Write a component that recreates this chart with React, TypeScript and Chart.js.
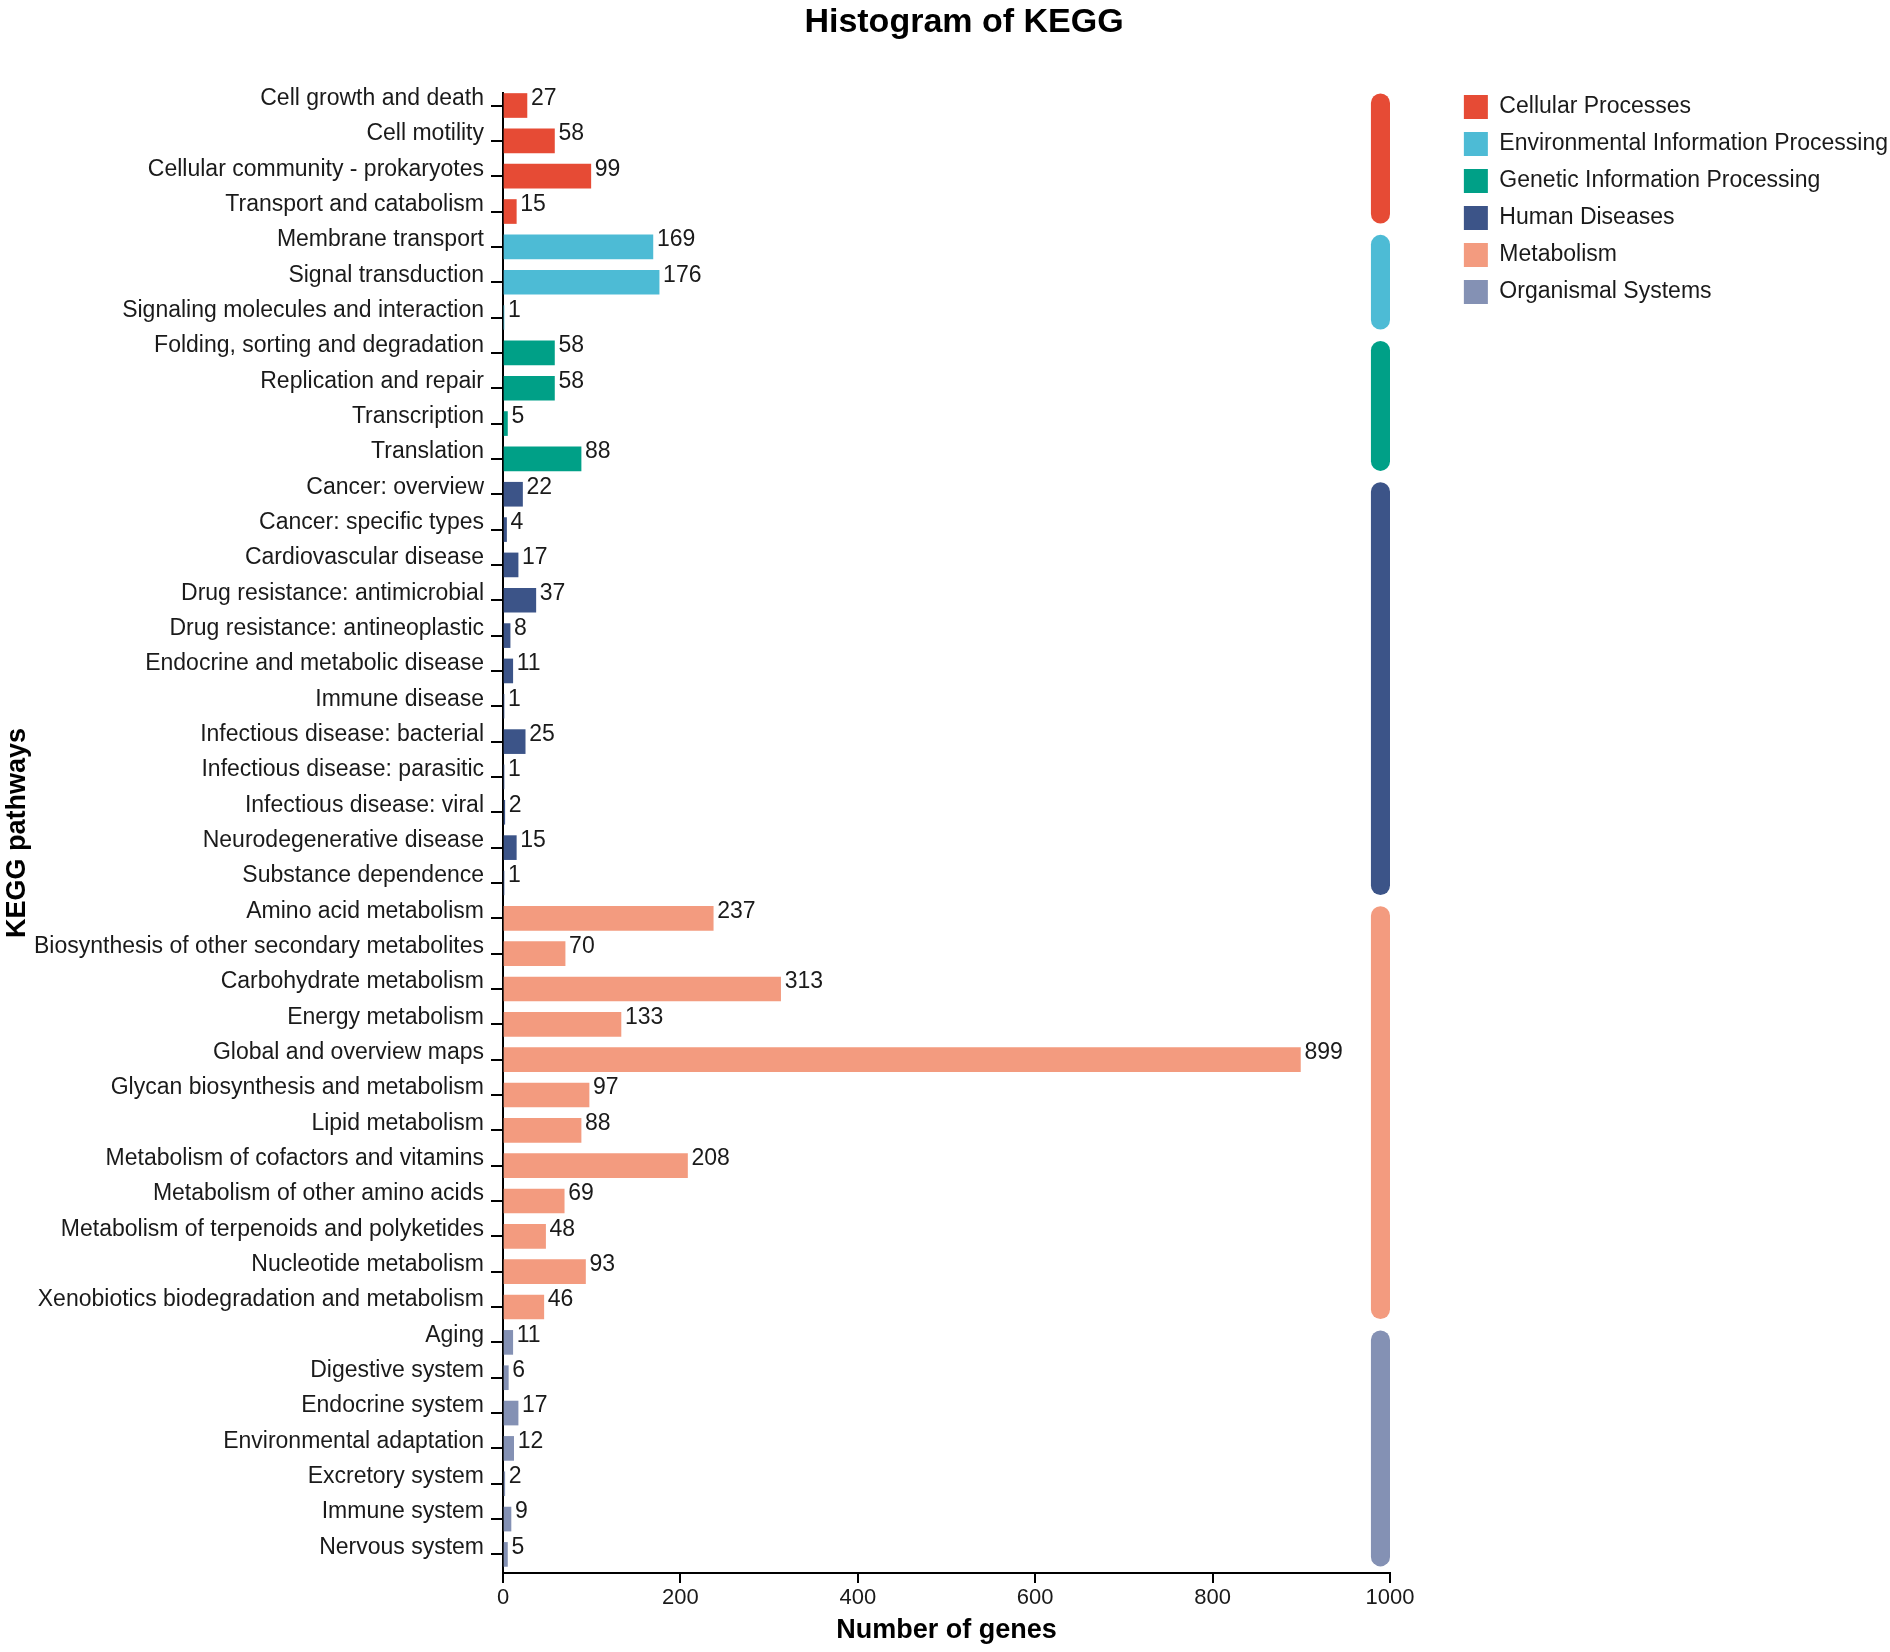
import React, { useEffect, useRef } from "react";
import { Chart, registerables } from "chart.js";

Chart.register(...registerables);

// ---------------- data ----------------
const CATEGORIES = [
  "Cell growth and death",
  "Cell motility",
  "Cellular community - prokaryotes",
  "Transport and catabolism",
  "Membrane transport",
  "Signal transduction",
  "Signaling molecules and interaction",
  "Folding, sorting and degradation",
  "Replication and repair",
  "Transcription",
  "Translation",
  "Cancer: overview",
  "Cancer: specific types",
  "Cardiovascular disease",
  "Drug resistance: antimicrobial",
  "Drug resistance: antineoplastic",
  "Endocrine and metabolic disease",
  "Immune disease",
  "Infectious disease: bacterial",
  "Infectious disease: parasitic",
  "Infectious disease: viral",
  "Neurodegenerative disease",
  "Substance dependence",
  "Amino acid metabolism",
  "Biosynthesis of other secondary metabolites",
  "Carbohydrate metabolism",
  "Energy metabolism",
  "Global and overview maps",
  "Glycan biosynthesis and metabolism",
  "Lipid metabolism",
  "Metabolism of cofactors and vitamins",
  "Metabolism of other amino acids",
  "Metabolism of terpenoids and polyketides",
  "Nucleotide metabolism",
  "Xenobiotics biodegradation and metabolism",
  "Aging",
  "Digestive system",
  "Endocrine system",
  "Environmental adaptation",
  "Excretory system",
  "Immune system",
  "Nervous system",
];

const VALUES = [
  27, 58, 99, 15,
  169, 176, 1,
  58, 58, 5, 88,
  22, 4, 17, 37, 8, 11, 1, 25, 1, 2, 15, 1,
  237, 70, 313, 133, 899, 97, 88, 208, 69, 48, 93, 46,
  11, 6, 17, 12, 2, 9, 5,
];

// group index of each category (index into GROUPS)
const CATEGORY_GROUP = [
  0, 0, 0, 0,
  1, 1, 1,
  2, 2, 2, 2,
  3, 3, 3, 3, 3, 3, 3, 3, 3, 3, 3, 3,
  4, 4, 4, 4, 4, 4, 4, 4, 4, 4, 4, 4,
  5, 5, 5, 5, 5, 5, 5,
];

const GROUPS = [
  "Cellular Processes",
  "Environmental Information Processing",
  "Genetic Information Processing",
  "Human Diseases",
  "Metabolism",
  "Organismal Systems",
];

const GROUP_COLORS = ["#E64B35", "#4DBBD5", "#00A087", "#3C5488", "#F39B7F", "#8491B4"];

const X_MIN = 0;
const X_MAX = 1000;
const X_STEP = 200;

// ---------------- styling / layout constants ----------------
const FAMILY = "'Liberation Sans', Arial, Helvetica, sans-serif";
const TEXT_COLOR = "#1a1a1a";
const W = 1890;
const H = 1652;
const PLOT_LEFT = 503;
const PLOT_RIGHT = 1390;
const PLOT_TOP = 93;
const PLOT_BOTTOM = 1573;
const PAD_LEFT = 30;
const PAD_RIGHT = -8;
const BAR_THICKNESS = 24;
const PILL_FROM = 978.5;
const PILL_TO = 1000;
const TITLE_SIZE = 34;
const TITLE_TOP = 2;
const LABEL_SIZE = 23;
const AXIS_TITLE_SIZE = 27;
const Y_TITLE_X = 17.6;

const valueLabels = {
  id: "valueLabels",
  afterDatasetsDraw(chart: any) {
    const ctx = chart.ctx;
    const meta = chart.getDatasetMeta(0);
    ctx.save();
    ctx.font = `${LABEL_SIZE}px ${FAMILY}`;
    ctx.fillStyle = TEXT_COLOR;
    ctx.textAlign = "left";
    ctx.textBaseline = "middle";
    meta.data.forEach((el: any, i: number) => {
      ctx.fillText(String(VALUES[i]), el.x + 4, el.y - 7);
    });
    ctx.restore();
  },
};

const groupPills = {
  id: "groupPills",
  afterDatasetsDraw(chart: any) {
    const ctx = chart.ctx;
    const xs = chart.scales.x;
    const ys = chart.scales.y;
    ctx.save();
    GROUPS.forEach((_g, gi) => {
      const idx: number[] = [];
      CATEGORY_GROUP.forEach((g, i) => {
        if (g === gi) idx.push(i);
      });
      if (!idx.length) return;
      const half = BAR_THICKNESS / 2;
      const top = ys.getPixelForValue(idx[0]) - half;
      const bottom = ys.getPixelForValue(idx[idx.length - 1]) + half;
      const left = xs.getPixelForValue(PILL_FROM);
      const right = xs.getPixelForValue(PILL_TO);
      const r = (right - left) / 2;
      ctx.beginPath();
      ctx.moveTo(left, top + r);
      ctx.arc(left + r, top + r, r, Math.PI, 0);
      ctx.lineTo(right, bottom - r);
      ctx.arc(left + r, bottom - r, r, 0, Math.PI);
      ctx.closePath();
      ctx.fillStyle = GROUP_COLORS[gi];
      ctx.fill();
    });
    ctx.restore();
  },
};

export default function App() {
  const canvasRef = useRef<HTMLCanvasElement | null>(null);

  useEffect(() => {
    document.body.style.margin = "0";
    const canvas = canvasRef.current;
    if (!canvas) return;
    Chart.defaults.font.family = FAMILY;
    Chart.defaults.color = TEXT_COLOR;

    const chart = new Chart(canvas, {
      type: "bar",
      data: {
        datasets: [
          {
            data: VALUES.map((v, i) => ({ x: v, y: i })) as any,
            backgroundColor: CATEGORY_GROUP.map((g) => GROUP_COLORS[g]),
            borderWidth: 0,
            barThickness: BAR_THICKNESS,
          },
        ],
      },
      options: {
        indexAxis: "y",
        responsive: false,
        animation: false,
        devicePixelRatio: 1,
        layout: { padding: { left: PAD_LEFT, right: PAD_RIGHT, top: 0, bottom: 0 } },
        plugins: {
          title: {
            display: true,
            text: "Histogram of KEGG",
            color: "#000",
            font: { size: TITLE_SIZE, weight: "bold", family: FAMILY },
            padding: { top: TITLE_TOP, bottom: PLOT_TOP - TITLE_TOP - TITLE_SIZE * 1.2 },
          },
          legend: {
            display: true,
            position: "right",
            align: "start",
            maxWidth: 700,
            title: {
              display: true,
              text: " ",
              font: { size: 10 },
              padding: { top: 70, bottom: 0 },
            },
            labels: {
              boxWidth: 24,
              boxHeight: 24,
              padding: 13,
              color: TEXT_COLOR,
              font: { size: LABEL_SIZE, family: FAMILY },
              generateLabels: () =>
                GROUPS.map((g, i) => ({
                  text: g,
                  fillStyle: GROUP_COLORS[i],
                  strokeStyle: GROUP_COLORS[i],
                  lineWidth: 0,
                  hidden: false,
                  datasetIndex: 0,
                  fontColor: TEXT_COLOR,
                })) as any,
            },
          },
          tooltip: { enabled: false },
        },
        scales: {
          x: {
            type: "linear",
            position: "bottom",
            min: X_MIN,
            max: X_MAX,
            offset: false,
            ticks: {
              stepSize: X_STEP,
              color: TEXT_COLOR,
              font: { size: 22, family: FAMILY },
              padding: 2,
              callback: (v: any) => String(v),
            },
            grid: {
              display: true,
              offset: false,
              drawOnChartArea: false,
              drawTicks: true,
              tickLength: 10,
              color: "#000",
              lineWidth: 2,
            },
            border: { display: true, color: "#000", width: 2 },
            title: {
              display: true,
              text: "Number of genes",
              color: "#000",
              font: { size: AXIS_TITLE_SIZE, weight: "bold", family: FAMILY },
              padding: { top: 0, bottom: 5 },
            },
            afterFit: (axis: any) => {
              axis.height = H - PLOT_BOTTOM;
            },
          },
          y: {
            type: "linear",
            position: "left",
            reverse: true,
            offset: false,
            min: -0.354,
            max: 41.526,
            afterBuildTicks: (axis: any) => {
              axis.ticks = CATEGORIES.map((_c, i) => ({ value: i }));
            },
            ticks: {
              autoSkip: false,
              stepSize: 1,
              includeBounds: false,
              color: TEXT_COLOR,
              font: { size: LABEL_SIZE, family: FAMILY },
              padding: 7,
              labelOffset: -7,
              callback: (v: any) => CATEGORIES[Number(v)] ?? "",
            },
            grid: {
              display: true,
              offset: false,
              drawOnChartArea: false,
              drawTicks: true,
              tickLength: 12,
              color: "#000",
              lineWidth: 2,
            },
            border: { display: true, color: "#000", width: 2 },
            title: {
              display: true,
              text: "KEGG pathways",
              color: "#000",
              font: { size: AXIS_TITLE_SIZE, weight: "bold", family: FAMILY },
              padding: { top: Y_TITLE_X - PAD_LEFT - (AXIS_TITLE_SIZE * 1.2) / 2, bottom: 0 },
            },
            afterFit: (axis: any) => {
              axis.width = PLOT_LEFT - PAD_LEFT;
            },
          },
          y2: {
            type: "linear",
            position: "right",
            display: true,
            grid: { display: false },
            border: { display: false },
            ticks: { display: false },
            afterFit: (axis: any) => {
              const lg = axis.chart.legend;
              const lw = lg ? lg.width : 0;
              axis.width = Math.max(0, axis.chart.width - PAD_RIGHT - lw - PLOT_RIGHT);
            },
          },
        },
      } as any,
      plugins: [groupPills, valueLabels],
    });

    return () => {
      chart.destroy();
    };
  }, []);

  return (
    <div style={{ width: W, height: H }}>
      <canvas ref={canvasRef} width={W} height={H} style={{ width: W, height: H, display: "block" }} />
    </div>
  );
}
